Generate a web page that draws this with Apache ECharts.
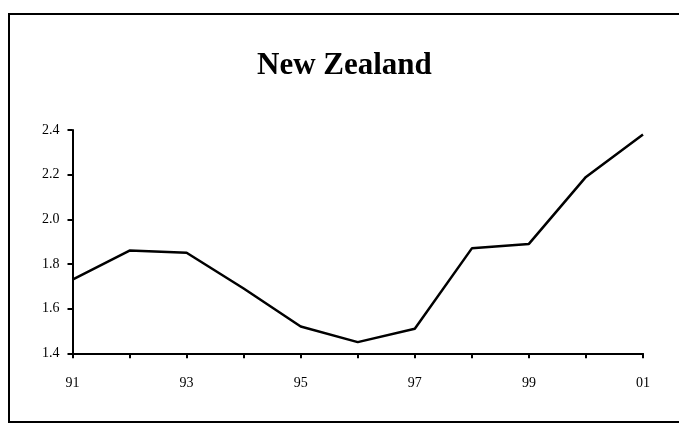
<!DOCTYPE html>
<html>
<head>
<meta charset="utf-8">
<style>
  html, body { margin: 0; padding: 0; background: #fff; }
  #chart { width: 679px; height: 424px; }
</style>
<script src="https://cdn.jsdelivr.net/npm/echarts@6/dist/echarts.min.js"></script>
</head>
<body>
<div id="chart"></div>
<script>
const titleText = 'New Zealand';
const years = ['91', '92', '93', '94', '95', '96', '97', '98', '99', '00', '01'];
const values = [1.73, 1.86, 1.85, 1.69, 1.52, 1.45, 1.51, 1.87, 1.89, 2.19, 2.38];
const yTicks = [1.4, 1.6, 1.8, 2.0, 2.2, 2.4];

const FONT = "'Liberation Serif', 'Times New Roman', serif";
const chart = echarts.init(document.getElementById('chart'), null, { renderer: 'canvas' });

chart.setOption({
  backgroundColor: '#ffffff',
  animation: false,
  title: {
    text: titleText,
    left: 252,
    top: 45,
    textStyle: { fontFamily: FONT, fontSize: 31, fontWeight: 'bold', color: '#000' }
  },
  graphic: [{
    type: 'rect',
    shape: { x: 9, y: 14, width: 700, height: 408 },
    style: { fill: 'none', stroke: '#000', lineWidth: 2 },
    silent: true
  }],
  grid: { left: 72.5, right: 36, top: 130, bottom: 70.7, containLabel: false },
  xAxis: {
    type: 'category',
    data: years,
    boundaryGap: false,
    axisLine: { lineStyle: { color: '#000', width: 2 } },
    axisTick: { show: true, interval: 0, length: 5, lineStyle: { color: '#000', width: 2 } },
    axisLabel: { interval: 1, margin: 23, fontFamily: FONT, fontSize: 14, color: '#000' },
    splitLine: { show: false }
  },
  yAxis: {
    type: 'value',
    min: yTicks[0],
    max: yTicks[yTicks.length - 1],
    interval: 0.2,
    axisLine: { show: true, lineStyle: { color: '#000', width: 2 } },
    axisTick: { show: true, length: 5, lineStyle: { color: '#000', width: 2 } },
    axisLabel: { margin: 13, fontFamily: FONT, fontSize: 14, color: '#000', formatter: v => v.toFixed(1) },
    splitLine: { show: false }
  },
  series: [{
    type: 'line',
    data: values,
    showSymbol: false,
    symbol: 'none',
    lineStyle: { color: '#000', width: 2.5 }
  }]
});
</script>
</body>
</html>
